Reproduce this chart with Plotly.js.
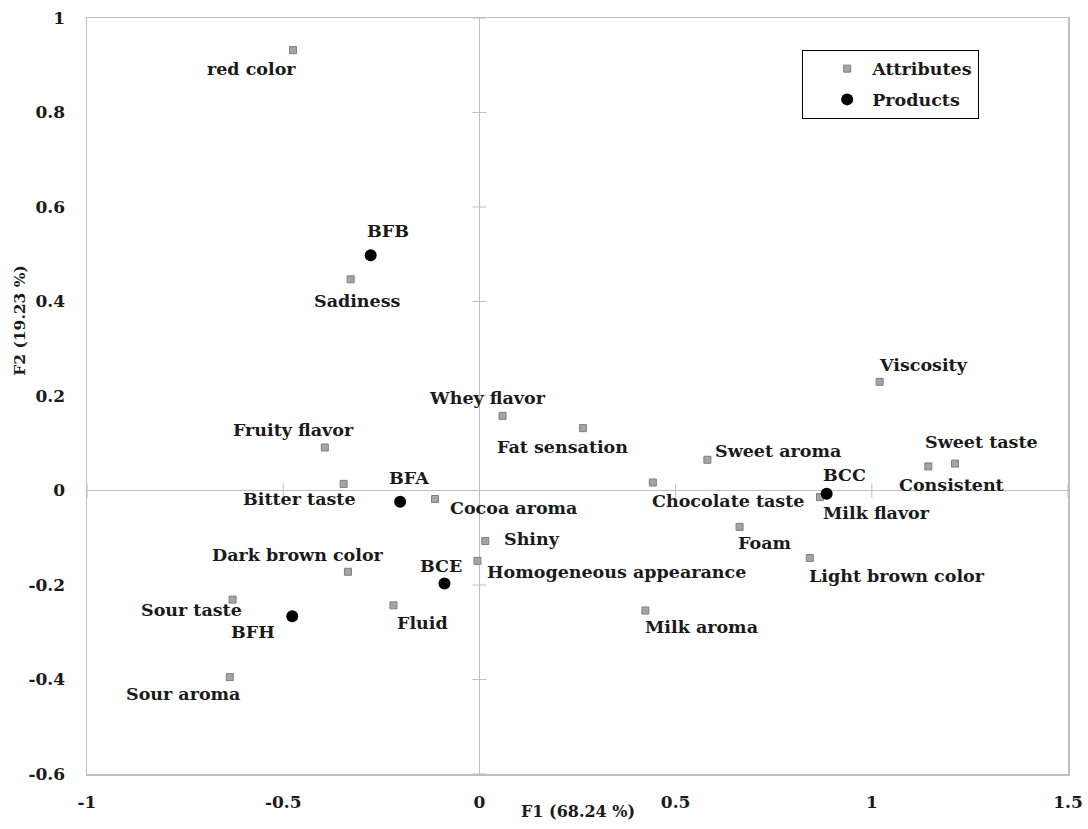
<!DOCTYPE html>
<html>
<head>
<meta charset="utf-8">
<script src="https://cdn.plot.ly/plotly-3.0.1.min.js"></script>
<style>html,body{margin:0;padding:0;background:#fff;}#chart{width:1088px;height:829px;}</style>
</head>
<body>
<div id="chart"></div>
<script>
// ---- data ----
const attrNames = ["red color","Sadiness","Whey flavor","Fat sensation","Sweet aroma","Chocolate taste","Cocoa aroma","Shiny","Homogeneous appearance","Foam","Milk aroma","Viscosity","Sweet taste","Consistent","Milk flavor","Light brown color","Fruity flavor","Bitter taste","Dark brown color","Sour taste","Sour aroma","Fluid"];
const attrF1 = [-0.475,-0.328,0.059,0.264,0.581,0.442,-0.113,0.015,-0.005,0.663,0.423,1.020,1.212,1.144,0.868,0.842,-0.394,-0.346,-0.335,-0.629,-0.636,-0.219];
const attrF2 = [0.932,0.447,0.158,0.132,0.065,0.017,-0.018,-0.107,-0.149,-0.077,-0.254,0.230,0.057,0.051,-0.014,-0.143,0.091,0.014,-0.172,-0.231,-0.395,-0.243];
const prodNames = ["BFB","BFA","BCE","BFH","BCC"];
const prodF1 = [-0.277,-0.202,-0.089,-0.477,0.885];
const prodF2 = [0.498,-0.024,-0.197,-0.266,-0.007];
const xTickVals = [-1,-0.5,0,0.5,1,1.5];
const xTickText = ["-1","-0.5","0","0.5","1","1.5"];
const yTickVals = [-0.6,-0.4,-0.2,0,0.2,0.4,0.6,0.8,1];
const yTickText = ["-0.6","-0.4","-0.2","0","0.2","0.4","0.6","0.8","1"];
const xTitle = "F1 (68.24 %)";
const yTitle = "F2 (19.23 %)";

// ---- label placement (pixel offsets of label centre from its point) ----
const attrLabelDx = [-42,7,-15,-20,71,75,78,47,139,25,56,44,27,23,56,87,-31,-44,-50,-41,-47,29];
const attrLabelDy = [19,22,-18,19,-9,19,9,-2,11,16,16,-17,-22,19,16,18,-18,15,-17,10,17,18];
const prodLabelDx = [17,9,-3,-39,18];
const prodLabelDy = [-24,-24,-18,16,-19];

const FONT = "DejaVu Serif";
const FS = 17.5;
const TXT = "#1a1a1a";

const traces = [
  {type:"scatter", mode:"markers", name:"Attributes", x:attrF1, y:attrF2, legendgroup:"a",
   marker:{symbol:"square", size:7, color:"#a5a5a5", line:{color:"#7f7f7f", width:1}}, hoverinfo:"text", text:attrNames},
  {type:"scatter", mode:"markers", name:"Products", x:prodF1, y:prodF2, legendgroup:"p",
   marker:{symbol:"circle", size:12, color:"#000000"}, hoverinfo:"text", text:prodNames}
];

const annotations = [];
attrNames.forEach((n,i)=>annotations.push({x:attrF1[i], y:attrF2[i], xref:"x", yref:"y", text:n, showarrow:false,
  xanchor:"center", yanchor:"middle", xshift:attrLabelDx[i], yshift:-attrLabelDy[i], font:{family:FONT, size:FS, color:TXT, weight:"bold"}}));
prodNames.forEach((n,i)=>annotations.push({x:prodF1[i], y:prodF2[i], xref:"x", yref:"y", text:n, showarrow:false,
  xanchor:"center", yanchor:"middle", xshift:prodLabelDx[i], yshift:-prodLabelDy[i], font:{family:FONT, size:FS, color:TXT, weight:"bold"}}));
annotations.push({xref:"paper", yref:"paper", x:-0.069, y:0.6, text:yTitle, textangle:-90, showarrow:false,
  xanchor:"center", yanchor:"middle", font:{family:FONT, size:15.5, color:TXT, weight:"bold"}});
annotations.push({xref:"paper", yref:"paper", x:0.5, y:-0.049, text:xTitle, showarrow:false,
  xanchor:"center", yanchor:"middle", font:{family:FONT, size:16, color:TXT, weight:"bold"}});

// cross ticks on the zero lines
const shapes = [];
yTickVals.forEach(v=>shapes.push({type:"line", xref:"x", yref:"y", xsizemode:"pixel", xanchor:0, x0:-7, x1:7, y0:v, y1:v, line:{color:"#bfbfbf", width:1}}));
xTickVals.forEach(v=>shapes.push({type:"line", xref:"x", yref:"y", ysizemode:"pixel", yanchor:0, y0:-7, y1:7, x0:v, x1:v, line:{color:"#bfbfbf", width:1}}));

const layout = {
  width:1088, height:829,
  margin:{l:87, r:20, t:18, b:55},
  paper_bgcolor:"#ffffff", plot_bgcolor:"#ffffff",
  showlegend:true,
  legend:{x:0.729, y:0.958, xanchor:"left", yanchor:"top", bgcolor:"#ffffff", bordercolor:"#000000", borderwidth:1,
    font:{family:FONT, size:FS, color:TXT, weight:"bold"}, traceorder:"grouped", tracegroupgap:5, indentation:19, itemwidth:40},
  xaxis:{range:[-1,1.5], tickvals:xTickVals, ticktext:xTickText, showgrid:false, zeroline:true, zerolinecolor:"#bfbfbf", zerolinewidth:1,
    showline:true, mirror:true, linecolor:"#bfbfbf", linewidth:1.5, ticks:"", ticklabelstandoff:12,
    tickfont:{family:FONT, size:17, color:TXT, weight:"bold"}},
  yaxis:{range:[-0.6,1], tickvals:yTickVals, ticktext:yTickText, showgrid:false, zeroline:true, zerolinecolor:"#bfbfbf", zerolinewidth:1,
    showline:true, mirror:true, linecolor:"#bfbfbf", linewidth:1.5, ticks:"", ticklabelstandoff:17,
    tickfont:{family:FONT, size:17, color:TXT, weight:"bold"}},
  annotations:annotations,
  shapes:shapes
};
Plotly.newPlot("chart", traces, layout, {displayModeBar:false, staticPlot:true});
</script>
</body>
</html>
